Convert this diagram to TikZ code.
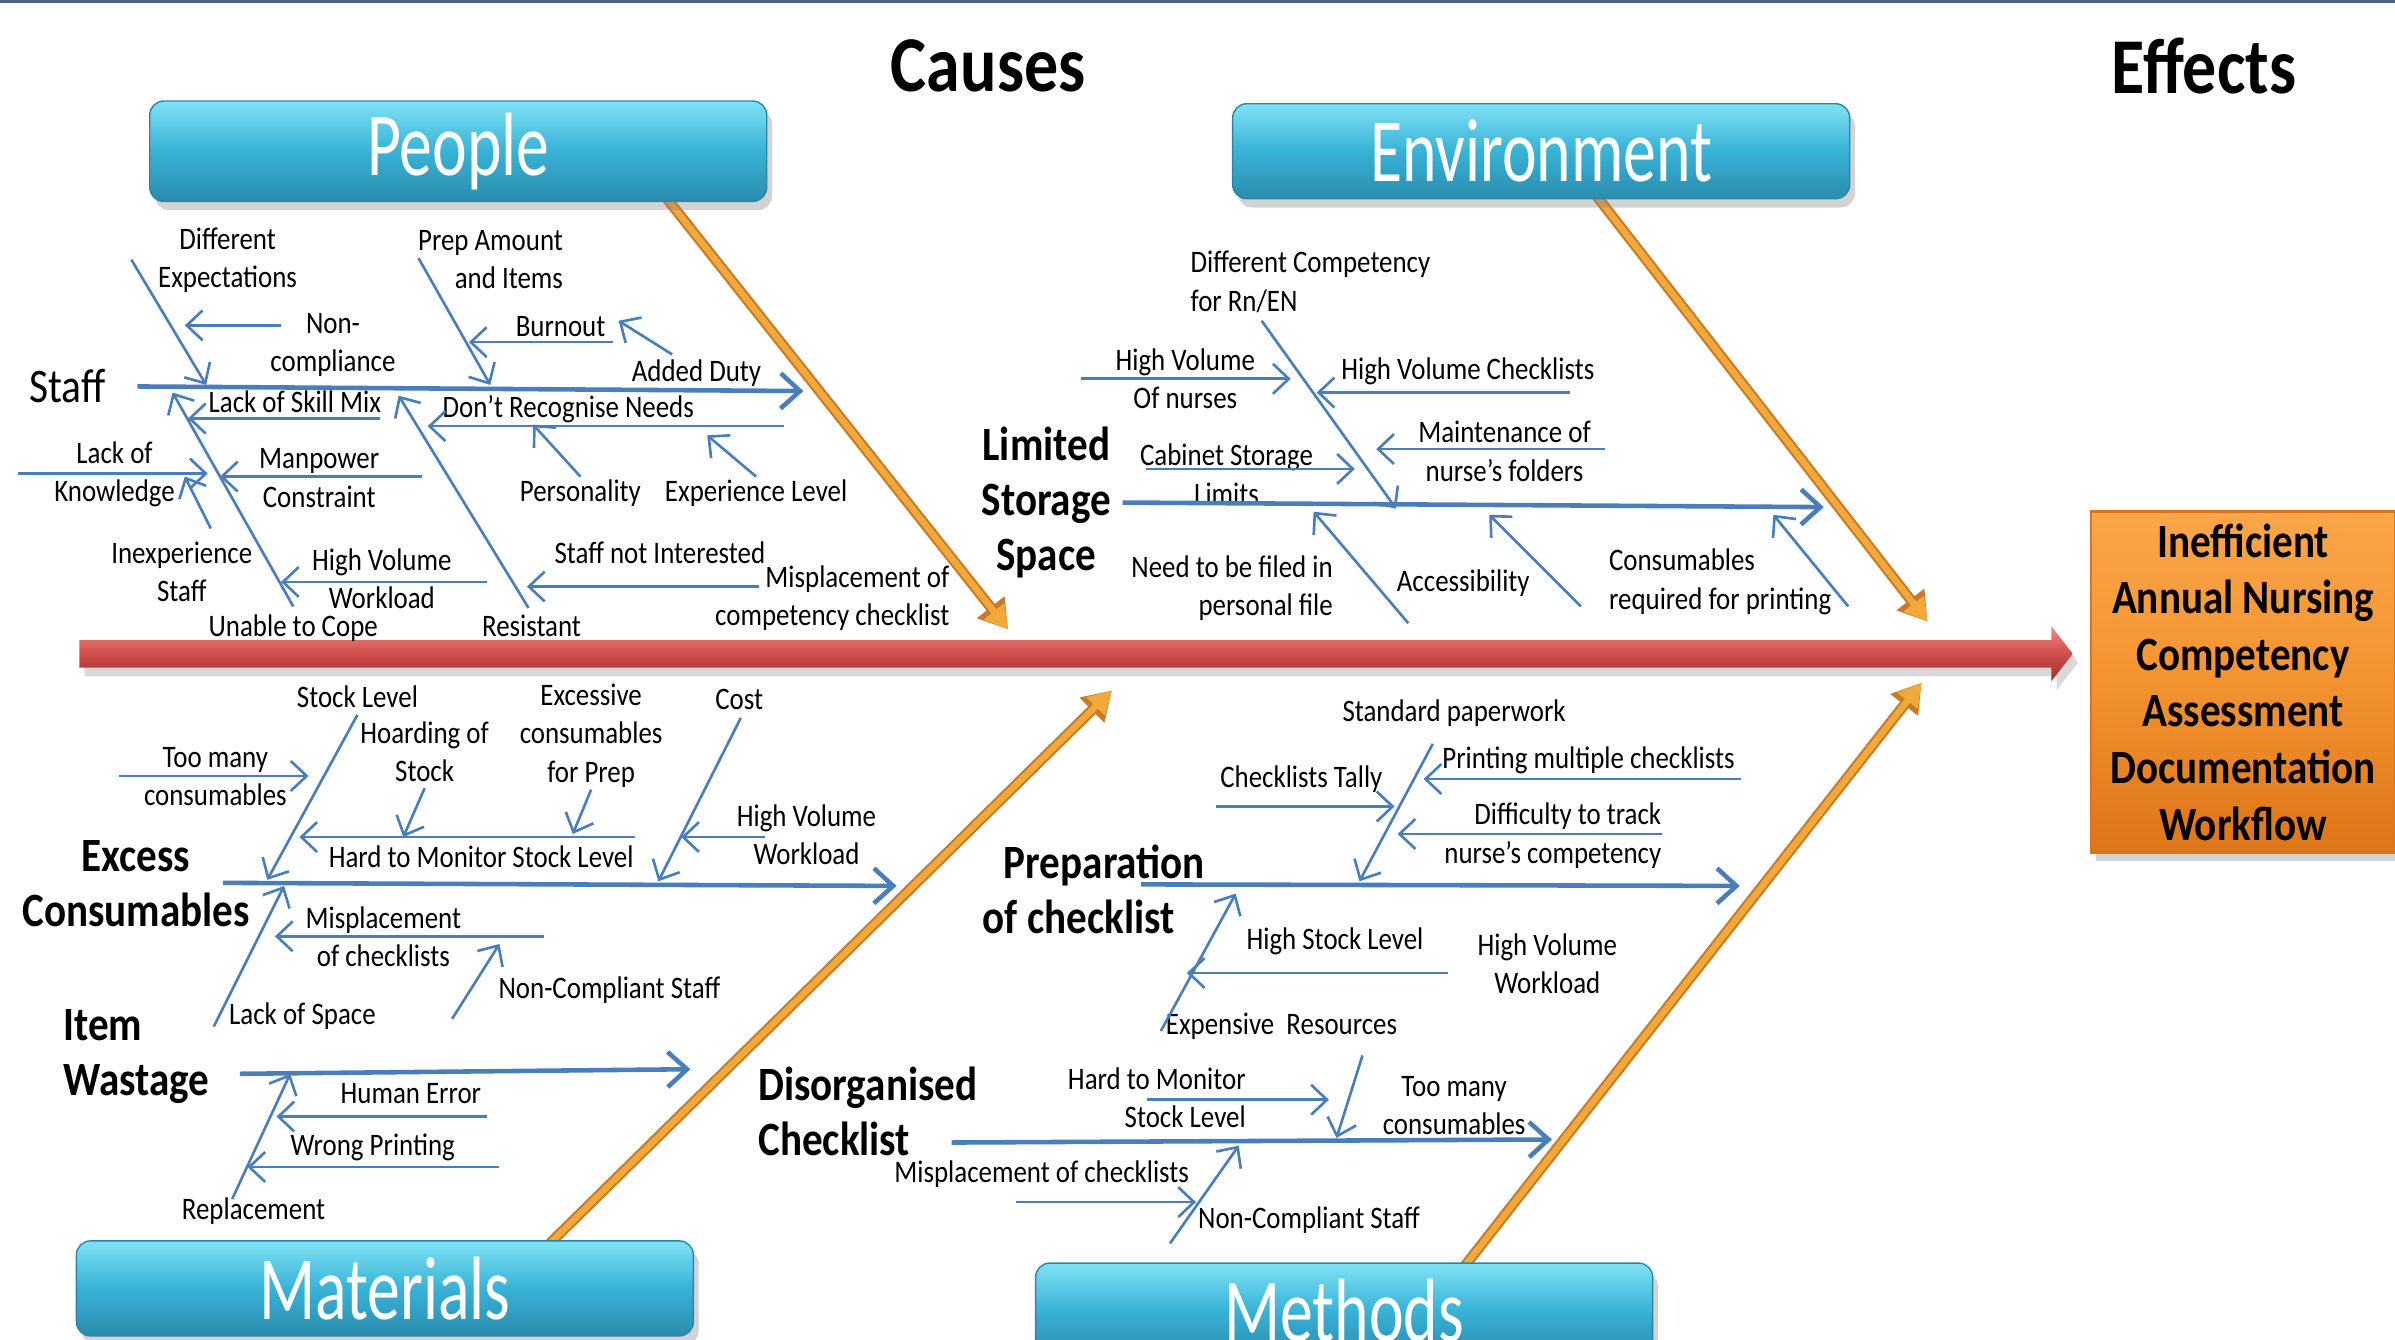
\documentclass[tikz,border=0pt]{standalone}
\usepackage{fontspec}
\setmainfont{Carlito}[FakeStretch=0.86]
\newfontfamily\catfont{Carlito}[FakeStretch=0.73]
\usepackage{tikz}
\usetikzlibrary{arrows.meta,shadows}
\definecolor{ribblue}{HTML}{4A7EBB}
\definecolor{boneorange}{HTML}{F2A93B}
\definecolor{boneedge}{HTML}{C97A26}
\definecolor{spinered}{HTML}{CF4E4B}
\definecolor{spinetop}{HTML}{F08A86}
\definecolor{spinebot}{HTML}{9E2F2C}
\definecolor{cattop}{HTML}{7FE2F5}
\definecolor{catmid}{HTML}{38B2D6}
\definecolor{catbot}{HTML}{2A8CAD}
\definecolor{catedge}{HTML}{2B87A6}
\definecolor{efftop}{HTML}{FAA64A}
\definecolor{effmid}{HTML}{F39330}
\definecolor{effbot}{HTML}{DC7518}
\definecolor{topline}{HTML}{4F5F7F}

\begin{document}
\begin{tikzpicture}[
    x=0.015274cm, y=-0.015274cm,
    lbl/.style={inner sep=0pt, align=center, font=\fontsize{8.9}{10.9}\selectfont},
    sub/.style={inner sep=0pt, align=center, font=\bfseries\fontsize{13.6}{15.6}\selectfont},
    title/.style={inner sep=0pt, font=\bfseries\fontsize{22.5}{26}\selectfont},
    cat/.style={rounded corners=4pt, minimum width=6.17cm, minimum height=0.95cm, draw=catedge, line width=0.4pt,
        top color=cattop, bottom color=catbot, middle color=catmid, text=white,
        font=\catfont\fontsize{25.6}{28}\selectfont, drop shadow={opacity=0.35, shadow xshift=1.5pt, shadow yshift=-2.5pt}},
    effbox/.style={minimum width=3.04cm, minimum height=3.41cm, draw=effbot, line width=0.6pt,
        top color=efftop, bottom color=effbot, middle color=effmid, align=center,
        font=\bfseries\fontsize{13.6}{16.1}\selectfont, drop shadow={opacity=0.35, shadow xshift=1.5pt, shadow yshift=-2.5pt}},
    rib/.style={draw=ribblue, line width=1.3pt, -{Straight Barb[length=5.5pt,width=10pt]}},
    twig/.style={draw=ribblue, line width=0.75pt, -{Straight Barb[length=4.5pt,width=8.5pt]}},
    bone/.style={preaction={draw=boneedge, line width=3pt, -{Triangle[length=8pt,width=9.5pt]}},
        draw=boneorange, line width=1.8pt, -{Triangle[length=6.5pt,width=7pt]}}
]
\useasboundingbox (0,0) rectangle (1568,877);
\draw[topline, line width=1.2pt] (0,0.8) -- (1568,0.8);

\node[title] (causes) at (647,43) {Causes};
\node[title] (effects) at (1443,43) {Effects};

\coordinate (peopleRoot) at (435,128); \coordinate (peopleTip) at (660,412);
\coordinate (envRoot) at (1045,128); \coordinate (envTip) at (1262,407);
\coordinate (matRoot) at (360,814); \coordinate (matTip) at (728,452);
\coordinate (methRoot) at (958,830); \coordinate (methTip) at (1258,447);
\draw[bone] (peopleRoot) -- (peopleTip);
\draw[bone] (envRoot) -- (envTip);
\draw[bone] (matRoot) -- (matTip);
\draw[bone] (methRoot) -- (methTip);

\node[cat] (people) at (300,99) {People};
\node[cat] (env) at (1009,99) {Environment};
\node[cat] (mat) at (252,843.5) {Materials};
\node[cat] (meth) at (880,858) {Methods};

\shade[top color=spinetop, bottom color=spinebot, middle color=spinered,
    drop shadow={opacity=0.3, shadow xshift=1.5pt, shadow yshift=-2.5pt}]
    (52,419) -- (1343,419) -- (1343,410) -- (1357,428) -- (1343,446) -- (1343,437) -- (52,437) -- cycle;

\node[effbox] (effect) at (1468.5,446.5) {Inefficient\\Annual Nursing\\Competency\\Assessment\\Documentation\\Workflow};

\node[inner sep=0pt, font=\fontsize{13.7}{15}\selectfont] (staff) at (44,253) {Staff};
\node[lbl] (tDiffExp) at (149,170.5) {Different\\Expectations};
\node[lbl, align=right, anchor=east] (tPrep) at (369,170) {Prep Amount\\and Items};
\node[lbl] (tNonComp) at (218,226) {Non-\\compliance};
\node[lbl] (tBurnout) at (367,214) {Burnout};
\node[lbl] (tAdded) at (456,244) {Added Duty};
\node[lbl] (tSkill) at (193,263) {Lack of Skill Mix};
\node[lbl] (tRecog) at (372,268) {Don’t Recognise Needs};
\node[lbl] (tKnow) at (75,310.5) {Lack of\\Knowledge};
\node[lbl] (tManp) at (209,313) {Manpower\\Constraint};
\node[lbl] (tPers) at (380,323) {Personality};
\node[lbl] (tExpLvl) at (495,323) {Experience Level};
\node[lbl] (tInexp) at (119,374.5) {Inexperience\\Staff};
\node[lbl] (tHVW) at (250,379) {High Volume\\Workload};
\node[lbl] (tNotInt) at (432,362) {Staff not Interested};
\node[lbl, align=right, anchor=east] (tMisp) at (622,391.5) {Misplacement of\\competency checklist};
\node[lbl] (tCope) at (192,411.5) {Unable to Cope};
\node[lbl] (tResist) at (348,410) {Resistant};

\coordinate (staffA) at (90,253); \coordinate (staffB) at (526,256);
\coordinate (diffExpA) at (86,170); \coordinate (diffExpB) at (135,252);
\coordinate (nonCompA) at (184,213); \coordinate (nonCompB) at (121,213);
\coordinate (prepA) at (274,169); \coordinate (prepB) at (321,252);
\coordinate (burnoutA) at (401,224); \coordinate (burnoutB) at (307,224);
\coordinate (addedA) at (440,232); \coordinate (addedB) at (405,210);
\coordinate (copeA) at (192,397); \coordinate (copeB) at (113,257);
\coordinate (skillA) at (249,274); \coordinate (skillB) at (123,274);
\coordinate (knowA) at (12,310); \coordinate (knowB) at (136,310);
\coordinate (inexpA) at (138,346); \coordinate (inexpB) at (121,312);
\coordinate (manpA) at (276,312); \coordinate (manpB) at (144,312);
\coordinate (hvwA) at (319,381); \coordinate (hvwB) at (184,381);
\coordinate (resistA) at (346,398); \coordinate (resistB) at (261,259);
\coordinate (recogA) at (513,279); \coordinate (recogB) at (280,279);
\coordinate (persA) at (380,312); \coordinate (persB) at (349,278);
\coordinate (expLvlA) at (495,312); \coordinate (expLvlB) at (463,285);
\coordinate (notIntA) at (497,384); \coordinate (notIntB) at (345,384);
\draw[rib] (staffA) -- (staffB);
\draw[twig] (diffExpA) -- (diffExpB);
\draw[twig] (nonCompA) -- (nonCompB);
\draw[twig] (prepA) -- (prepB);
\draw[twig] (burnoutA) -- (burnoutB);
\draw[twig] (addedA) -- (addedB);
\draw[twig] (copeA) -- (copeB);
\draw[twig] (skillA) -- (skillB);
\draw[twig] (knowA) -- (knowB);
\draw[twig] (inexpA) -- (inexpB);
\draw[twig] (manpA) -- (manpB);
\draw[twig] (hvwA) -- (hvwB);
\draw[twig] (resistA) -- (resistB);
\draw[twig] (recogA) -- (recogB);
\draw[twig] (persA) -- (persB);
\draw[twig] (expLvlA) -- (expLvlB);
\draw[twig] (notIntA) -- (notIntB);

\node[sub] (limited) at (685,329) {Limited\\Storage\\Space};
\node[lbl, align=left, anchor=west] (tDiffComp) at (779,184.5) {Different Competency\\for Rn/EN};
\node[lbl] (tHVN) at (776,248) {High Volume\\Of nurses};
\node[lbl] (tHVC) at (961,243) {High Volume Checklists};
\node[lbl] (tMaint) at (985,295.5) {Maintenance of\\nurse’s folders};
\node[lbl] (tCab) at (803,310.5) {Cabinet Storage\\Limits};
\node[lbl, align=right, anchor=east] (tFiled) at (873,385) {Need to be filed in\\personal file};
\node[lbl] (tAccess) at (958,382) {Accessibility};
\node[lbl, align=left, anchor=west] (tConsPr) at (1053,381) {Consumables\\required for printing};

\coordinate (limitedA) at (735,329); \coordinate (limitedB) at (1194,332);
\coordinate (diffCompA) at (826,210); \coordinate (diffCompB) at (914,333);
\coordinate (hvnA) at (708,248); \coordinate (hvnB) at (845,248);
\coordinate (hvcA) at (1028,257); \coordinate (hvcB) at (862,257);
\coordinate (maintA) at (1051,294); \coordinate (maintB) at (901,294);
\coordinate (cabA) at (750,307); \coordinate (cabB) at (887,307);
\coordinate (filedA) at (922,408); \coordinate (filedB) at (860,335);
\coordinate (accessA) at (1035,397); \coordinate (accessB) at (975,337);
\coordinate (consPrA) at (1210,397); \coordinate (consPrB) at (1161,337);
\draw[rib] (limitedA) -- (limitedB);
\draw[twig] (diffCompA) -- (diffCompB);
\draw[twig] (hvnA) -- (hvnB);
\draw[twig] (hvcA) -- (hvcB);
\draw[twig] (maintA) -- (maintB);
\draw[twig] (cabA) -- (cabB);
\draw[twig] (filedA) -- (filedB);
\draw[twig] (accessA) -- (accessB);
\draw[twig] (consPrA) -- (consPrB);

\node[sub] (excess) at (89,578.5) {Excess\\Consumables};
\node[lbl] (tStock) at (234,456) {Stock Level};
\node[lbl] (tTooMany) at (141,508.5) {Too many\\consumables};
\node[lbl] (tHoard) at (278,492) {Hoarding of\\Stock};
\node[lbl] (tExcCons) at (387,481.5) {Excessive\\consumables\\for Prep};
\node[lbl] (tHardMon) at (315,561) {Hard to Monitor Stock Level};
\node[lbl] (tCost) at (484,458) {Cost};
\node[lbl] (tHVW2) at (528,546.5) {High Volume\\Workload};
\node[lbl] (tSpace) at (198,665) {Lack of Space};
\node[lbl] (tMispl) at (251,613.5) {Misplacement\\of checklists};
\node[lbl] (tNCS) at (399,648) {Non-Compliant Staff};
\node[sub, align=left, anchor=west] (item) at (41,691.5) {Item\\Wastage};
\node[lbl] (tHuman) at (269,716) {Human Error};
\node[lbl] (tWrong) at (244,751) {Wrong Printing};
\node[lbl] (tRepl) at (166,793) {Replacement};

\coordinate (excessA) at (146,578); \coordinate (excessB) at (587,580);
\coordinate (stockA) at (234,468); \coordinate (stockB) at (175,576);
\coordinate (tooManyA) at (78,508); \coordinate (tooManyB) at (202,508);
\coordinate (hoardA) at (278,516); \coordinate (hoardB) at (264,548);
\coordinate (excConsA) at (387,517); \coordinate (excConsB) at (375,546);
\coordinate (hardMonA) at (416,548); \coordinate (hardMonB) at (196,548);
\coordinate (costA) at (485,470); \coordinate (costB) at (431,577);
\coordinate (hvwTwoA) at (501,548); \coordinate (hvwTwoB) at (446,548);
\coordinate (spaceA) at (140,672); \coordinate (spaceB) at (186,580);
\coordinate (misplA) at (356,613); \coordinate (misplB) at (180,613);
\coordinate (ncsA) at (296,667); \coordinate (ncsB) at (327,618);
\coordinate (itemA) at (157,703); \coordinate (itemB) at (452,700);
\coordinate (replA) at (152,785); \coordinate (replB) at (190,703);
\coordinate (humanA) at (319,731); \coordinate (humanB) at (181,731);
\coordinate (wrongA) at (327,764); \coordinate (wrongB) at (162,764);
\draw[rib] (excessA) -- (excessB);
\draw[twig] (stockA) -- (stockB);
\draw[twig] (tooManyA) -- (tooManyB);
\draw[twig] (hoardA) -- (hoardB);
\draw[twig] (excConsA) -- (excConsB);
\draw[twig] (hardMonA) -- (hardMonB);
\draw[twig] (costA) -- (costB);
\draw[twig] (hvwTwoA) -- (hvwTwoB);
\draw[twig] (spaceA) -- (spaceB);
\draw[twig] (misplA) -- (misplB);
\draw[twig] (ncsA) -- (ncsB);
\draw[rib] (itemA) -- (itemB);
\draw[twig] (replA) -- (replB);
\draw[twig] (humanA) -- (humanB);
\draw[twig] (wrongA) -- (wrongB);

\node[sub, align=left, anchor=west] (prep) at (643,582) {\hspace*{6pt}Preparation\\of checklist};
\node[lbl] (tStd) at (952,467) {Standard paperwork};
\node[lbl] (tPrint) at (1040,498) {Printing multiple checklists};
\node[lbl] (tTally) at (852,510) {Checklists Tally};
\node[lbl, align=right, anchor=east] (tTrack) at (1088,547) {Difficulty to track\\nurse’s competency};
\node[lbl] (tHSL) at (874,616) {High Stock Level};
\node[lbl] (tExpens) at (839,672) {Expensive~ Resources};
\node[lbl] (tHVW3) at (1013,631) {High Volume\\Workload};
\node[sub, align=left, anchor=west] (disorg) at (496,727.5) {Disorganised\\Checklist};
\node[lbl, align=right, anchor=east] (tHardMon2) at (816,718.5) {Hard to Monitor\\Stock Level};
\node[lbl] (tTooMany2) at (952,724) {Too many\\consumables};
\node[lbl] (tMispl2) at (682,769) {Misplacement of checklists};
\node[lbl] (tNCS2) at (857,799) {Non-Compliant Staff};

\coordinate (prepA) at (747,579); \coordinate (prepB) at (1139,580);
\coordinate (stdA) at (938,487); \coordinate (stdB) at (890,577);
\coordinate (printA) at (1140,510); \coordinate (printB) at (932,510);
\coordinate (tallyA) at (796,528); \coordinate (tallyB) at (913,528);
\coordinate (trackA) at (1088,546); \coordinate (trackB) at (915,546);
\coordinate (hslA) at (948,637); \coordinate (hslB) at (777,637);
\coordinate (expensA) at (760,675); \coordinate (expensB) at (809,585);
\coordinate (disorgA) at (623,748); \coordinate (disorgB) at (1016,746);
\coordinate (hardMonTwoA) at (751,720); \coordinate (hardMonTwoB) at (870,720);
\coordinate (tooManyTwoA) at (892,691); \coordinate (tooManyTwoB) at (875,745);
\coordinate (misplTwoA) at (665,787); \coordinate (misplTwoB) at (783,787);
\coordinate (ncsTwoA) at (766,814); \coordinate (ncsTwoB) at (811,750);
\draw[rib] (prepA) -- (prepB);
\draw[twig] (stdA) -- (stdB);
\draw[twig] (printA) -- (printB);
\draw[twig] (tallyA) -- (tallyB);
\draw[twig] (trackA) -- (trackB);
\draw[twig] (hslA) -- (hslB);
\draw[twig] (expensA) -- (expensB);
\draw[rib] (disorgA) -- (disorgB);
\draw[twig] (hardMonTwoA) -- (hardMonTwoB);
\draw[twig] (tooManyTwoA) -- (tooManyTwoB);
\draw[twig] (misplTwoA) -- (misplTwoB);
\draw[twig] (ncsTwoA) -- (ncsTwoB);
\end{tikzpicture}
\end{document}
